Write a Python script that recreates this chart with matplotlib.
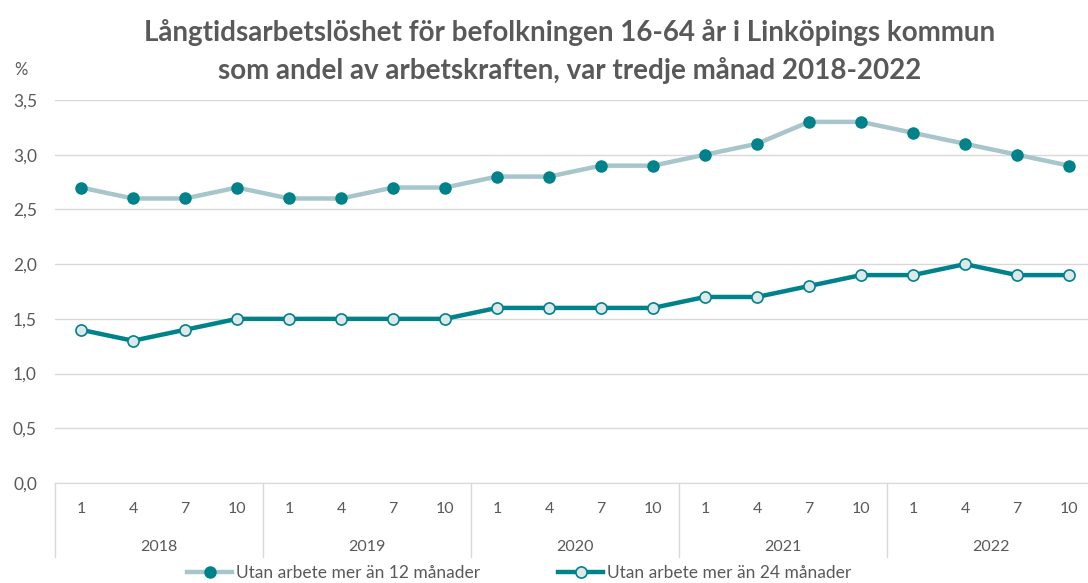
import numpy as np
import matplotlib.pyplot as plt
from matplotlib.lines import Line2D

plt.rcParams['font.family'] = ['Lato', 'DejaVu Sans']

years = ['2018', '2019', '2020', '2021', '2022']
months = ['1', '4', '7', '10']
over12 = [2.7, 2.6, 2.6, 2.7, 2.6, 2.6, 2.7, 2.7, 2.8, 2.8,
          2.9, 2.9, 3.0, 3.1, 3.3, 3.3, 3.2, 3.1, 3.0, 2.9]
over24 = [1.4, 1.3, 1.4, 1.5, 1.5, 1.5, 1.5, 1.5, 1.6, 1.6,
          1.6, 1.6, 1.7, 1.7, 1.8, 1.9, 1.9, 2.0, 1.9, 1.9]
yticks = [0, 0.5, 1.0, 1.5, 2.0, 2.5, 3.0, 3.5]
label12 = 'Utan arbete mer än 12 månader'
label24 = 'Utan arbete mer än 24 månader'

grey = '#595959'
teal = '#00828B'
light = '#A7C5CA'

W, H = 1088, 583
fig = plt.figure(figsize=(W / 100, H / 100), dpi=100)
ax = fig.add_axes([55 / W, (H - 483) / H, 1040 / W, 383 / H])

x = np.arange(len(over12))
ax.plot(x, over12, color=light, lw=3.2, marker='o', ms=8,
        mfc=teal, mec=teal, zorder=3)
ax.plot(x, over24, color=teal, lw=3.2, marker='o', ms=8,
        mfc='#DCE8EA', mec=teal, mew=1.2, zorder=3)

ax.set_xlim(-0.5, len(x) - 0.5)
ax.set_ylim(0, 3.5)
ax.set_yticks(yticks)
ax.set_yticklabels([f'{v:.1f}'.replace('.', ',') for v in yticks],
                   fontsize=12.5, color=grey)
ax.tick_params(axis='y', length=0, pad=13)
ax.set_xticks([])
ax.grid(axis='y', color='#D9D9D9', lw=1)
ax.set_axisbelow(True)
for s in ['top', 'right', 'left']:
    ax.spines[s].set_visible(False)
ax.spines['bottom'].set_color('#D9D9D9')

# two-level category axis
trans = ax.get_xaxis_transform()
for i, yr in enumerate(years):
    for j, m in enumerate(months):
        ax.text(i * 4 + j, -26 / 383, m, transform=trans, ha='center',
                va='center', fontsize=11.5, color=grey)
    ax.text(i * 4 + 1.5, -64 / 383, yr, transform=trans, ha='center',
            va='center', fontsize=11.5, color=grey)
for k in range(len(years) + 1):
    ax.add_line(Line2D([k * 4 - 0.5] * 2, [0, -74 / 383], transform=trans,
                       color='#D9D9D9', lw=1, clip_on=False))

ax.text(21 / W, (H - 70) / H, '%', transform=fig.transFigure, ha='center',
        va='center', fontsize=12, color=grey)

fig.text(570 / W, (H - 32) / H,
         'Långtidsarbetslöshet för befolkningen 16-64 år i Linköpings kommun',
         ha='center', va='center', fontsize=20, fontweight='bold', color=grey)
fig.text(570 / W, (H - 70) / H,
         'som andel av arbetskraften, var tredje månad 2018-2022',
         ha='center', va='center', fontsize=20, fontweight='bold', color=grey)

handles = [
    Line2D([], [], color=light, lw=3.2, marker='o', ms=8, mfc=teal, mec=teal),
    Line2D([], [], color=teal, lw=3.2, marker='o', ms=8, mfc='#DCE8EA',
           mec=teal, mew=1.2),
]
fig.legend(handles, [label12, label24], loc='center',
           bbox_to_anchor=(519 / W, (H - 573) / H), ncol=2, frameon=False,
           fontsize=12.5, handlelength=2.6, handletextpad=0.2, columnspacing=4.5,
           labelcolor=grey, borderpad=0, borderaxespad=0)

fig.savefig('out.png', dpi=100)
